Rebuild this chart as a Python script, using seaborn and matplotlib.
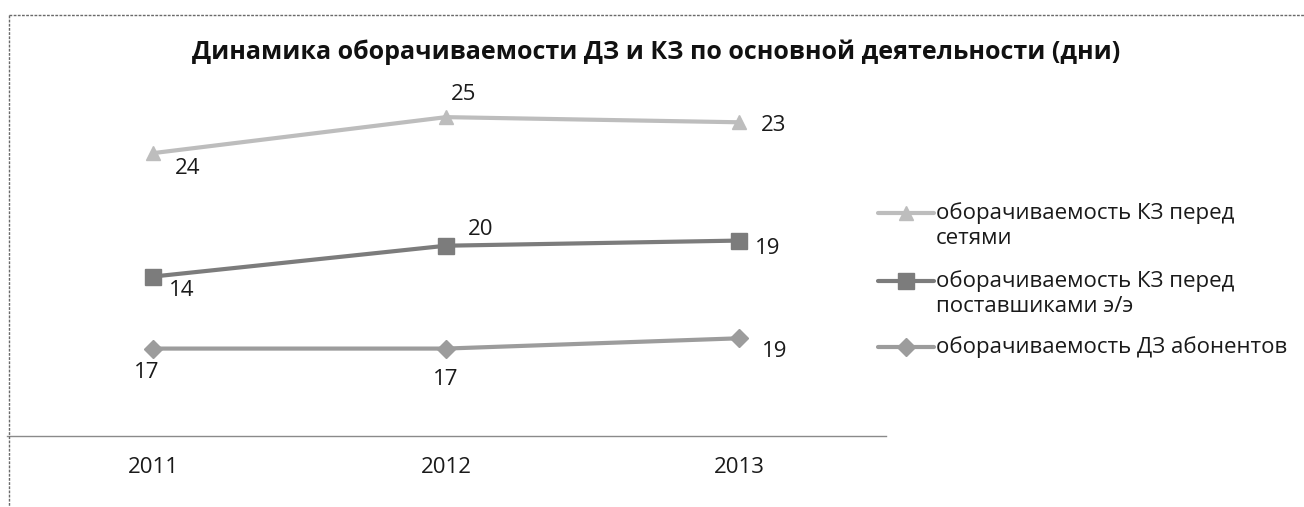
import matplotlib
matplotlib.use("Agg")
import matplotlib.pyplot as plt
from matplotlib.lines import Line2D
import pandas as pd
import seaborn as sns

# --- data -------------------------------------------------------------
years = ["2011", "2012", "2013"]
subscribers_receivable = [17, 17, 19]      # ДЗ абонентов
suppliers_payable = [14, 20, 19]           # КЗ перед поставщиками э/э
networks_payable = [24, 25, 23]            # КЗ перед сетями

series_labels = [
    "оборачиваемость ДЗ абонентов",
    "оборачиваемость КЗ перед\nпоставшиками э/э",
    "оборачиваемость КЗ перед\nсетями",
]
chart_title = "Динамика оборачиваемости ДЗ и КЗ по основной деятельности (дни)"

# --- styling ----------------------------------------------------------
W, H, DPI = 1304, 507, 100
FONT = "Open Sans"
TEXT_SIZE = 16
colors = ["#9c9c9c", "#7c7c7c", "#bdbdbd"]
markers = ["D", "s", "^"]
marker_sizes = [9, 11, 10]
# data-label offsets in pixels (dx right, dy down) per series / year
label_offsets = [
    [(-6, 24), (0, 31), (36, 13)],
    [(29, 14), (35, -16), (29, 8)],
    [(35, 15), (18, -23), (35, 3)],
]

sns.set_theme(style="white")
plt.rcParams["font.family"] = [FONT, "DejaVu Sans"]

fig = plt.figure(figsize=(W / DPI, H / DPI), dpi=DPI)
fig.patch.set_facecolor("white")

def fx(px):
    return px / W

def fy(py):
    return 1 - py / H

# plot area (stacked line chart, y from 0 to 70)
ax = fig.add_axes([fx(6.5), fy(436), fx(879), (436 - 76) / H])

series_values = [subscribers_receivable, suppliers_payable, networks_payable]
rows = []
running = [0, 0, 0]
for name, vals in zip(series_labels, series_values):
    running = [r + v for r, v in zip(running, vals)]
    for i, (y, v, s) in enumerate(zip(years, vals, running)):
        rows.append({"series": name, "pos": i, "year": y, "value": v, "stacked": s})
df = pd.DataFrame(rows)

for k, name in enumerate(series_labels):
    sub = df[df["series"] == name]
    sns.lineplot(data=sub, x="pos", y="stacked", ax=ax, color=colors[k],
                 marker=markers[k], markersize=marker_sizes[k], linewidth=3,
                 markeredgecolor=colors[k], markeredgewidth=1, legend=False)
    for (_, r), (dx, dy) in zip(sub.iterrows(), label_offsets[k]):
        ax.annotate(str(r["value"]), (r["pos"], r["stacked"]),
                    xytext=(dx, -dy), textcoords="offset pixels",
                    ha="center", va="center", fontsize=TEXT_SIZE, color="#1a1a1a")

ax.set_xlim(-0.5, 2.5)
ax.set_ylim(0, 70)
ax.set_xticks(range(len(years)))
ax.set_xticklabels(years, fontsize=TEXT_SIZE, color="#1a1a1a")
ax.set_yticks([])
ax.tick_params(axis="x", length=0, pad=15)
ax.set_xlabel("")
ax.set_ylabel("")
for side in ["top", "right", "left"]:
    ax.spines[side].set_visible(False)
ax.spines["bottom"].set_color("#8a8a8a")
ax.spines["bottom"].set_linewidth(1)
ax.patch.set_alpha(0)

# chart frame (top and left edges)
fig.add_artist(Line2D([fx(9), 1], [fy(15), fy(15)], color="#6a6a6a", lw=1, linestyle=(0, (2, 1))))
fig.add_artist(Line2D([fx(9), fx(9)], [fy(15), 0], color="#6a6a6a", lw=1, linestyle=(0, (2, 1))))

# title
fig.text(fx(656), fy(52), chart_title, ha="center", va="center",
         fontsize=18, fontweight="bold", color="#111111")

# legend: entries listed top to bottom, handle aligned with the first line
legend_rows = [(2, [213, 239]), (1, [281, 306]), (0, [347])]
for k, ys in legend_rows:
    y0 = ys[0]
    fig.add_artist(Line2D([fx(878), fx(934)], [fy(y0), fy(y0)], color=colors[k], lw=3))
    fig.add_artist(Line2D([fx(906)], [fy(y0)], color=colors[k], marker=markers[k],
                          markersize=marker_sizes[k], markeredgecolor=colors[k], lw=0))
    for line, yy in zip(series_labels[k].split("\n"), ys):
        fig.text(fx(936), fy(yy), line, ha="left", va="center",
                 fontsize=TEXT_SIZE, color="#1a1a1a")

fig.savefig("out.png", dpi=DPI, facecolor="white")
